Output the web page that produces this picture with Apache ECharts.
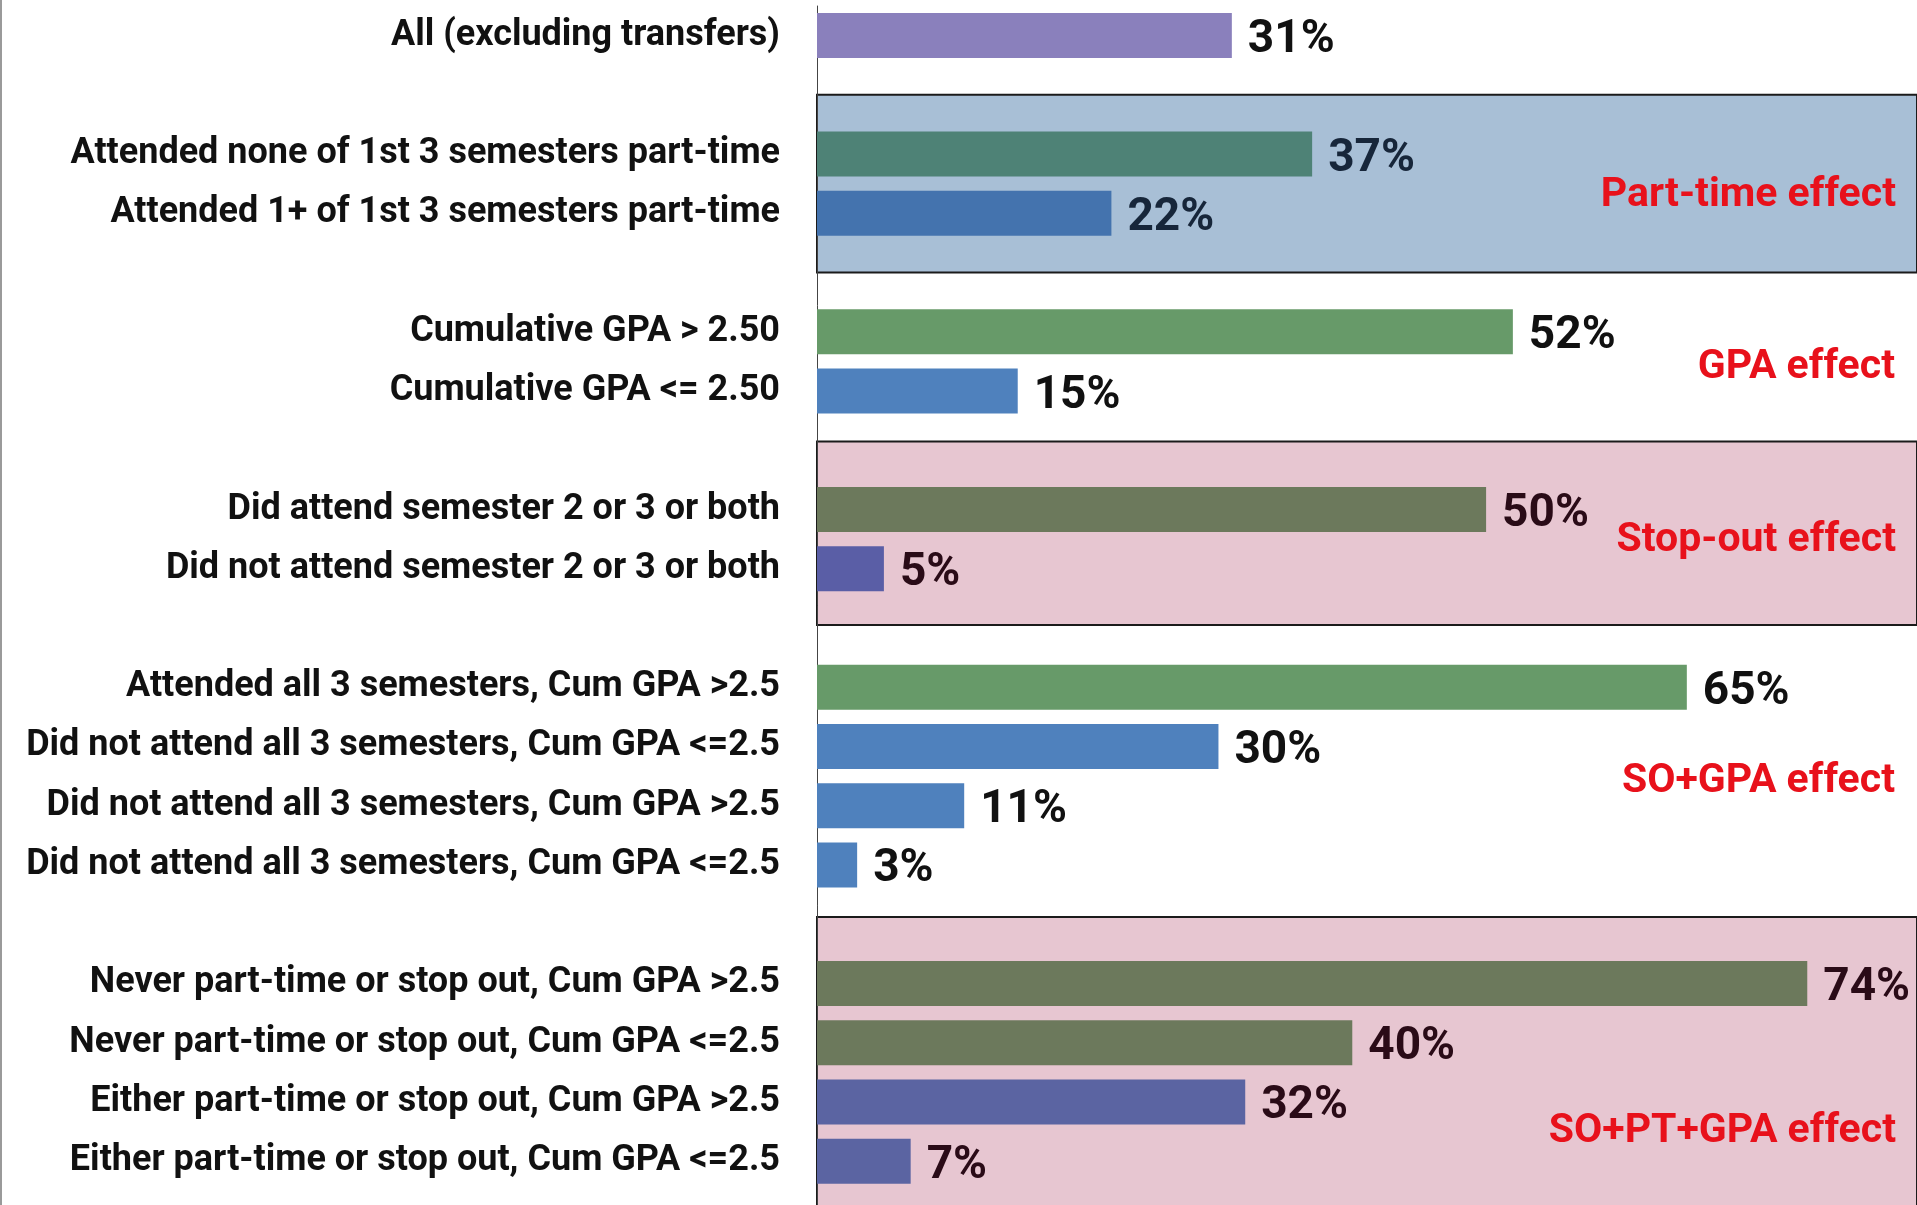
<!DOCTYPE html>
<html>
<head>
<meta charset="utf-8">
<title>Effects</title>
<script src="https://cdn.jsdelivr.net/npm/echarts@6/dist/echarts.min.js"></script>
<style>
  html, body { margin: 0; padding: 0; background: #fff; }
  #main { width: 1917px; height: 1205px; }
</style>
</head>
<body>
<div id="main"></div>
<script>
// rows, top to bottom; '' rows are the spacer rows between groups
var categories = [
  'All (excluding transfers)',
  '',
  'Attended none of 1st 3 semesters part-time',
  'Attended 1+ of 1st 3 semesters part-time',
  '',
  'Cumulative GPA > 2.50',
  'Cumulative GPA <= 2.50',
  '',
  'Did attend semester 2 or 3 or both',
  'Did not attend semester 2 or 3 or both',
  '',
  'Attended all 3 semesters, Cum GPA >2.5',
  'Did not attend all 3 semesters, Cum GPA <=2.5',
  'Did not attend all 3 semesters, Cum GPA >2.5',
  'Did not attend all 3 semesters, Cum GPA <=2.5',
  '',
  'Never part-time or stop out, Cum GPA >2.5',
  'Never part-time or stop out, Cum GPA <=2.5',
  'Either part-time or stop out, Cum GPA >2.5',
  'Either part-time or stop out, Cum GPA <=2.5',
  ''
];
var values = [31, null, 37, 22, null, 52, 15, null, 50, 5, null, 65, 30, 11, 3, null, 74, 40, 32, 7, null];

// effect groups: name, box runs (roughly) from the middle of one spacer row to the next
var effectNames = ['Part-time effect', 'GPA effect', 'Stop-out effect', 'SO+GPA effect', 'SO+PT+GPA effect'];
var effectFrom = [1, 4, 6.85, 9.95, 14.88];
var effectTo = [4, 6.85, 9.95, 14.88, 20.5];

// styles
var barColors = ['#8A80BC', null, '#4E8276', '#4473AE', null, '#679A69', '#4F81BD', null,
  '#6C795C', '#5A5EA6', null, '#679A69', '#4F81BD', '#4F81BD', '#4F81BD', null,
  '#6C795C', '#6C795C', '#5B64A2', '#5B64A2', null];
var boxFill = ['#A8BFD6', 'rgba(0,0,0,0)', '#E7C6D1', 'rgba(0,0,0,0)', '#E7C6D1'];
var boxBorder = [2, 0, 2, 0, 2];
var boxLabelOffset = [[0, 12], [0, 11], [0, 8], [0, 11], [0, 48]];
var valueTextColor = ['#111', null, '#17263a', '#17263a', null, '#111', '#111', null,
  '#2a0b17', '#2a0b17', null, '#111', '#111', '#111', '#111', null,
  '#2a0b17', '#2a0b17', '#2a0b17', '#2a0b17', null];

var chart = echarts.init(document.getElementById('main'));

var barData = values.map(function (v, i) {
  return {
    value: v,
    itemStyle: { color: barColors[i] || '#999' },
    label: { color: valueTextColor[i] || '#111' }
  };
});

var areas = effectNames.map(function (name, i) {
  return [{
    name: name,
    yAxis: effectFrom[i],
    itemStyle: { color: boxFill[i], borderColor: '#1b1b1b', borderWidth: boxBorder[i] },
    label: { offset: boxLabelOffset[i] }
  }, {
    yAxis: effectTo[i]
  }];
});

chart.setOption({
  backgroundColor: '#ffffff',
  animation: false,
  grid: {
    left: 817,
    right: 0,
    top: 6,
    height: 1244,
    containLabel: false,
    outerBoundsMode: 'none'
  },
  xAxis: {
    type: 'value',
    min: 0,
    max: 82.2,
    show: false
  },
  yAxis: [{
    type: 'category',
    inverse: true,
    data: categories,
    z: 3,
    axisLine: { show: true, lineStyle: { color: '#444', width: 1 } },
    axisTick: { show: false },
    splitLine: { show: false },
    axisLabel: {
      margin: 37,
      color: '#111',
      fontFamily: 'Roboto',
      fontWeight: 'bold',
      fontSize: 36,
      interval: 0,
      padding: [8, 0, 0, 0]
    }
  }, {
    // row-index scale lined up with the category bands, used for the boxes
    type: 'value',
    inverse: true,
    min: -0.5,
    max: 20.5,
    show: false
  }],
  graphic: [{
    type: 'line',
    shape: { x1: 1, y1: 0, x2: 1, y2: 1205 },
    style: { stroke: '#9a9a9a', lineWidth: 2 }
  }],
  series: [{
    type: 'bar',
    data: barData,
    barWidth: 45,
    z: 4,
    label: {
      show: true,
      position: 'right',
      distance: 16,
      offset: [0, 5],
      formatter: '{c}%',
      fontFamily: 'Roboto',
      fontWeight: 'bold',
      fontSize: 46
    }
  }, {
    type: 'line',
    yAxisIndex: 1,
    data: [],
    silent: true,
    markArea: {
      silent: true,
      z: 1,
      label: {
        show: true,
        position: 'insideRight',
        distance: 22,
        color: '#E8111B',
        fontFamily: 'Roboto',
        fontWeight: 'bold',
        fontSize: 41
      },
      data: areas
    }
  }]
});
</script>
</body>
</html>
